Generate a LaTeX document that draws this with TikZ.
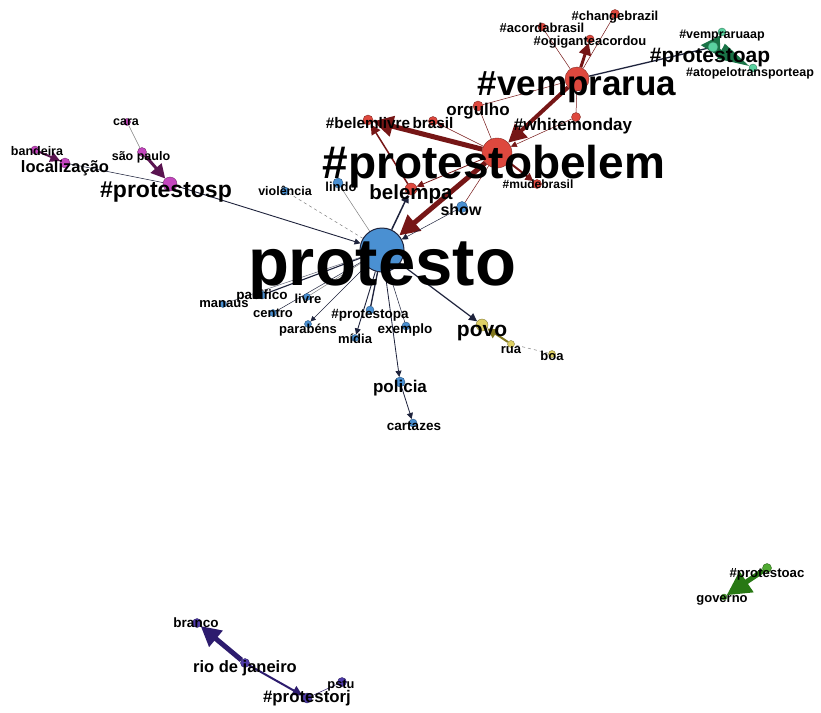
\documentclass[tikz,border=0pt]{standalone}
\usepackage{fontspec}
\setmainfont{Liberation Sans}
\usetikzlibrary{arrows.meta}
\pgfdeclarelayer{bg}
\pgfsetlayers{bg,main}
\definecolor{nblue}{RGB}{74,144,210}
\definecolor{nred}{RGB}{222,72,62}
\definecolor{dred}{RGB}{118,22,22}
\definecolor{nmag}{RGB}{196,70,190}
\definecolor{dmag}{RGB}{90,20,80}
\definecolor{nteal}{RGB}{90,210,160}
\definecolor{dteal}{RGB}{25,115,70}
\definecolor{nyel}{RGB}{222,208,100}
\definecolor{dyel}{RGB}{130,120,30}
\definecolor{npur}{RGB}{80,60,170}
\definecolor{dpur}{RGB}{45,28,110}
\definecolor{ngreen}{RGB}{80,170,50}
\definecolor{dgreen}{RGB}{40,120,20}
\definecolor{edk}{RGB}{30,35,60}
\begin{document}
\begin{tikzpicture}[x=1pt,y=-1pt,
  dotn/.style={circle,inner sep=0,minimum size=#1,line width=0.4pt},
  rd/.style={fill=nred,draw=nred!60!black},
  bl/.style={fill=nblue,draw=nblue!60!black},
  mg/.style={fill=nmag,draw=nmag!60!black},
  tl/.style={fill=nteal,draw=nteal!60!black},
  yl/.style={fill=nyel,draw=nyel!60!black},
  pu/.style={fill=npur,draw=npur!60!black},
  gr/.style={fill=ngreen,draw=ngreen!60!black},
  lab/.style={inner sep=0,anchor=base,text=black},
  fs/.style={font=\bfseries\fontsize{#1}{#1}\selectfont},
  ar/.style={-{Triangle[length=#1,width=#1]}},
  thin edge/.style={line width=0.5pt},
]
\useasboundingbox (0,0) rectangle (821,712);

% ---------- dots ----------
\node[dotn=44,bl,draw=edk,line width=1pt] (protesto) at (382,250) {};
\node[dotn=30,rd] (pbelem) at (497,153) {};
\node[dotn=24,rd] (vemprarua) at (577,79) {};
\node[dotn=10,rd] (belemlivre) at (368,120) {};
\node[dotn=9,rd] (brasil) at (433,121) {};
\node[dotn=10,rd] (orgulho) at (478,106) {};
\node[dotn=9,rd] (whitemonday) at (576,117) {};
\node[dotn=9,rd] (mudebrasil) at (537,184) {};
\node[dotn=12,rd] (belempa) at (411,189) {};
\node[dotn=11,bl] (show) at (462,207) {};
\node[dotn=10,bl] (lindo) at (338,183) {};
\node[dotn=8,bl] (violencia) at (285,191) {};
\node[dotn=14,mg] (psp) at (170,184) {};
\node[dotn=9,mg] (saopaulo) at (142,152) {};
\node[dotn=7,mg] (cara) at (127,122) {};
\node[dotn=10,mg] (localizacao) at (65,163) {};
\node[dotn=8,mg] (bandeira) at (35,150) {};
\node[dotn=9,rd] (changebrazil) at (615,14) {};
\node[dotn=8,rd] (acordabrasil) at (542,27) {};
\node[dotn=8,rd] (ogigante) at (590,39) {};
\node[dotn=8,tl] (vempraruaap) at (722,32) {};
\node[dotn=10,tl] (pap) at (713,47) {};
\node[dotn=8,tl] (atopelo) at (753,68) {};
\node[dotn=12,yl] (povo) at (482,325) {};
\node[dotn=7,yl] (rua) at (511,344) {};
\node[dotn=7,yl] (boa) at (552,354) {};
\node[dotn=10,bl] (policia) at (400,382) {};
\node[dotn=8,bl] (cartazes) at (413,423) {};
\node[dotn=8,bl] (pacifico) at (262,295) {};
\node[dotn=7,bl] (manaus) at (223,304) {};
\node[dotn=7,bl] (livre) at (307,297) {};
\node[dotn=7,bl] (centro) at (273,313) {};
\node[dotn=7,bl] (parabens) at (308,324) {};
\node[dotn=8,bl] (ppa) at (370,310) {};
\node[dotn=7,bl] (midia) at (355,338) {};
\node[dotn=8,bl] (exemplo) at (406,326) {};
\node[dotn=9,pu] (branco) at (197,623) {};
\node[dotn=9,pu] (rio) at (245,663) {};
\node[dotn=10,pu] (prj) at (307,698) {};
\node[dotn=9,pu] (pstu) at (342,682) {};
\node[dotn=9,gr] (pac) at (767,568) {};
\node[dotn=6,gr] (governo) at (724,597) {};

% ---------- edges ----------
\begin{pgfonlayer}{bg}
\fill[white] (0,0) rectangle (821,712);
% red cluster
\draw[dred,line width=5pt,ar=20] (pbelem) -- (belemlivre);
\draw[dred,thin edge,ar=6] (pbelem) -- (brasil);
\draw[dred,thin edge] (pbelem) -- (orgulho);
\draw[dred,line width=4pt,ar=18] (vemprarua) -- (pbelem);
\draw[dred,thin edge,ar=6] (whitemonday) -- (pbelem);
\draw[dred,line width=2pt,ar=8] (pbelem) -- (mudebrasil);
\draw[dred,line width=5pt,ar=20] (pbelem) -- (protesto);
\draw[dred,line width=0.8pt,ar=7] (pbelem) -- (belempa);
\draw[dred,line width=1.5pt,ar=10] (belempa) -- (belemlivre);
\draw[edk,line width=1.5pt,ar=8] (protesto) -- (belempa);
\draw[dred,thin edge] (pbelem) -- (show);
\draw[edk,thin edge,ar=6] (show) -- (protesto);
\draw[dred,thin edge] (vemprarua) -- (orgulho);
\draw[edk,line width=1.3pt] (vemprarua) -- (pap);
\draw[dred,thin edge] (vemprarua) -- (acordabrasil);
\draw[dred,line width=3pt,ar=12] (vemprarua) -- (ogigante);
\draw[dred,thin edge] (vemprarua) -- (changebrazil);
\draw[dred,thin edge] (vemprarua) -- (whitemonday);
% teal
\draw[dteal,line width=3pt,-{Triangle[length=18,width=22]}] (pap) -- (vempraruaap);
\draw[dteal,line width=3pt,-{Triangle[length=32,width=16]}] (pap) -- (atopelo);
% protesto cluster
\draw[gray,thin edge] (lindo) -- (protesto);
\draw[gray,thin edge,dashed] (violencia) -- (protesto);
\draw[edk,line width=0.9pt,ar=6] (psp) -- (protesto);
\draw[edk,line width=1.1pt] (protesto) -- (pacifico);
\draw[edk!70,thin edge] (protesto) -- (manaus);
\draw[gray,thin edge] (protesto) -- (livre);
\draw[edk,thin edge] (protesto) -- (centro);
\draw[edk,thin edge,ar=5] (protesto) -- (parabens);
\draw[edk,line width=1.3pt] (protesto) -- (ppa);
\draw[edk,line width=0.9pt,ar=6] (protesto) -- (midia);
\draw[edk,thin edge] (protesto) -- (exemplo);
\draw[edk,line width=0.8pt,ar=6] (protesto) -- (policia);
\draw[edk,line width=1.2pt,ar=8] (protesto) -- (povo);
\draw[edk,line width=0.8pt,ar=6] (policia) -- (cartazes);
% yellow
\draw[dyel,line width=2pt,ar=10] (rua) -- (povo);
\draw[gray,thin edge,dashed] (boa) -- (rua);
% magenta
\draw[edk,thin edge] (localizacao) -- (psp);
\draw[dmag,line width=2pt,ar=10] (bandeira) -- (localizacao);
\draw[dmag,line width=3pt,ar=14] (saopaulo) -- (psp);
\draw[gray,thin edge] (cara) -- (saopaulo);
% purple
\draw[dpur,line width=5pt,ar=20] (rio) -- (branco);
\draw[dpur,line width=2pt,ar=10] (rio) -- (prj);
\draw[dpur,thin edge] (pstu) -- (prj);
% green
\draw[dgreen,line width=5pt,ar=24] (pac) -- (governo);
\end{pgfonlayer}

% ---------- labels ----------
\node[lab,fs=67] (t-protesto) at (382,285) {protesto};
\node[lab,fs=46] (t-pbelem) at (494,178) {\#protestobelem};
\node[lab,fs=35] (t-vemprarua) at (577,95) {\#vemprarua};
\node[lab,fs=21] (t-pap) at (710,62) {\#protestoap};
\node[lab,fs=12.5] (t-vempraruaap) at (722,38) {\#vempraruaap};
\node[lab,fs=12.5] (t-atopelo) at (750,76) {\#atopelotransporteap};
\node[lab,fs=13] (t-changebrazil) at (615,20) {\#changebrazil};
\node[lab,fs=13] (t-acordabrasil) at (542,32) {\#acordabrasil};
\node[lab,fs=13] (t-ogigante) at (590,45) {\#ogiganteacordou};
\node[lab,fs=15.3] (t-belemlivre) at (368,128) {\#belemlivre};
\node[lab,fs=15.3] (t-brasil) at (433,128) {brasil};
\node[lab,fs=17] (t-orgulho) at (478,115) {orgulho};
\node[lab,fs=17] (t-whitemonday) at (573,130) {\#whitemonday};
\node[lab,fs=12] (t-mudebrasil) at (538,188) {\#mudebrasil};
\node[lab,fs=20.5] (t-belempa) at (411,199) {belempa};
\node[lab,fs=16] (t-show) at (461,215) {show};
\node[lab,fs=13] (t-lindo) at (341,191) {lindo};
\node[lab,fs=12.5] (t-violencia) at (285,195) {violência};
\node[lab,fs=23] (t-psp) at (166,197) {\#protestosp};
\node[lab,fs=12.5] (t-saopaulo) at (141,160) {são paulo};
\node[lab,fs=12.5] (t-cara) at (126,125) {cara};
\node[lab,fs=16.5] (t-localizacao) at (65,172) {localização};
\node[lab,fs=12.5] (t-bandeira) at (37,155) {bandeira};
\node[lab,fs=21] (t-povo) at (482,336) {povo};
\node[lab,fs=13] (t-rua) at (511,353) {rua};
\node[lab,fs=13] (t-boa) at (552,360) {boa};
\node[lab,fs=17] (t-policia) at (400,392) {policia};
\node[lab,fs=13.5] (t-cartazes) at (414,430) {cartazes};
\node[lab,fs=13.5] (t-pacifico) at (262,299) {pacifico};
\node[lab,fs=13] (t-manaus) at (224,307) {manaus};
\node[lab,fs=13] (t-livre) at (308,303) {livre};
\node[lab,fs=13] (t-centro) at (273,317) {centro};
\node[lab,fs=13] (t-parabens) at (308,333) {parabéns};
\node[lab,fs=13.5] (t-ppa) at (370,318) {\#protestopa};
\node[lab,fs=13] (t-midia) at (355,343) {mídia};
\node[lab,fs=13.5] (t-exemplo) at (405,333) {exemplo};
\node[lab,fs=13.5] (t-branco) at (196,627) {branco};
\node[lab,fs=16.5] (t-rio) at (245,672) {rio de janeiro};
\node[lab,fs=16.8] (t-prj) at (307,702) {\#protestorj};
\node[lab,fs=12.8] (t-pstu) at (341,688) {pstu};
\node[lab,fs=13.2] (t-pac) at (767,577) {\#protestoac};
\node[lab,fs=13] (t-governo) at (722,602) {governo};
\end{tikzpicture}
\end{document}
